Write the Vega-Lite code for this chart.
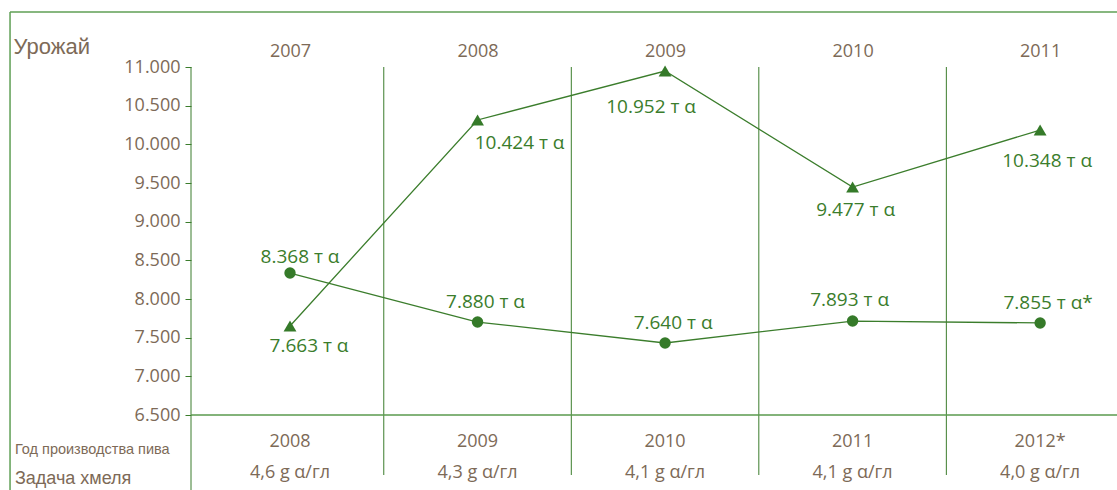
{
  "$schema": "https://vega.github.io/schema/vega-lite/v6.json",
  "width": 926,
  "height": 348,
  "autosize": {"type": "none"},
  "padding": {"left": 191, "top": 67, "right": 0, "bottom": 75},
  "background": "white",
  "config": {
    "view": {"stroke": null},
    "font": "Open Sans",
    "axisX": {"domain": false, "ticks": false, "tickSize": 0, "grid": false, "labelColor": "#7d6a57", "labelFontSize": 18, "labelFont": "Open Sans", "labelPadding": 7},
    "axisY": {"domain": false, "grid": false, "tickColor": "#3b7d2c", "tickSize": 6, "labelColor": "#7d6a57", "labelFontSize": 18, "labelFont": "Open Sans", "labelPadding": 5,
              "titleAngle": 0, "titleAlign": "left", "titleBaseline": "middle", "titleX": -178, "titleY": -21, "titleFont": "Liberation Sans", "titleFontSize": 22, "titleFontWeight": "normal", "titleColor": "#7d6a57"}
  },
  "datasets": {
    "d": [
      {"year": 2007, "series": "A", "value": 7651, "label": "7.663 т α"},
      {"year": 2008, "series": "A", "value": 10315, "label": "10.424 т α"},
      {"year": 2009, "series": "A", "value": 10948, "label": "10.952 т α"},
      {"year": 2010, "series": "A", "value": 9448, "label": "9.477 т α"},
      {"year": 2011, "series": "A", "value": 10185, "label": "10.348 т α"},
      {"year": 2007, "series": "B", "value": 8336, "label": "8.368 т α"},
      {"year": 2008, "series": "B", "value": 7702, "label": "7.880 т α"},
      {"year": 2009, "series": "B", "value": 7431, "label": "7.640 т α"},
      {"year": 2010, "series": "B", "value": 7715, "label": "7.893 т α"},
      {"year": 2011, "series": "B", "value": 7690, "label": "7.855 т α*"}
    ],
    "cols": [
      {"year": 2007, "prod": "2008", "hop": "4,6 g α/гл"},
      {"year": 2008, "prod": "2009", "hop": "4,3 g α/гл"},
      {"year": 2009, "prod": "2010", "hop": "4,1 g α/гл"},
      {"year": 2010, "prod": "2011", "hop": "4,1 g α/гл"},
      {"year": 2011, "prod": "2012*", "hop": "4,0 g α/гл"}
    ],
    "div": [{"b": 2007.5}, {"b": 2008.5}, {"b": 2009.5}, {"b": 2010.5}],
    "one": [{"k": 1}]
  },
  "layer": [
    {
      "data": {"name": "d"},
      "mark": {"type": "line", "color": "#3b7d2c", "strokeWidth": 1.3},
      "encoding": {
        "x": {"field": "year", "type": "quantitative", "scale": {"domain": [2006.472, 2011.41], "nice": false, "zero": false},
              "axis": {"orient": "top", "values": [2007, 2008, 2009, 2010, 2011], "format": "d", "title": null}},
        "y": {"field": "value", "type": "quantitative", "scale": {"domain": [6500, 11000], "nice": false, "zero": false},
              "axis": {"values": [6500, 7000, 7500, 8000, 8500, 9000, 9500, 10000, 10500, 11000], "labelExpr": "replace(format(datum.value, ',.0f'), ',', '.')", "title": "Урожай"}},
        "detail": {"field": "series"}
      }
    },
    {
      "data": {"name": "div"},
      "mark": {"type": "rule", "color": "#3b7d2c", "strokeWidth": 1},
      "encoding": {
        "x": {"field": "b", "type": "quantitative", "scale": {"domain": [2006.472, 2011.41], "nice": false, "zero": false},
              "axis": {"orient": "top", "values": [2007, 2008, 2009, 2010, 2011], "format": "d", "title": null}},
        "y": {"datum": 11000, "type": "quantitative", "scale": {"domain": [6500, 11000], "nice": false, "zero": false},
              "axis": {"values": [6500, 7000, 7500, 8000, 8500, 9000, 9500, 10000, 10500, 11000], "labelExpr": "replace(format(datum.value, ',.0f'), ',', '.')", "title": "Урожай"}},
        "y2": {"datum": 5724}
      }
    },
    {
      "data": {"name": "one"},
      "mark": {"type": "rule", "color": "#3b7d2c", "strokeWidth": 1},
      "encoding": {
        "x": {"datum": 2006.472, "type": "quantitative", "scale": {"domain": [2006.472, 2011.41], "nice": false, "zero": false},
              "axis": {"orient": "top", "values": [2007, 2008, 2009, 2010, 2011], "format": "d", "title": null}},
        "y": {"datum": 11000, "type": "quantitative", "scale": {"domain": [6500, 11000], "nice": false, "zero": false},
              "axis": {"values": [6500, 7000, 7500, 8000, 8500, 9000, 9500, 10000, 10500, 11000], "labelExpr": "replace(format(datum.value, ',.0f'), ',', '.')", "title": "Урожай"}},
        "y2": {"datum": 5530}
      }
    },
    {
      "data": {"name": "one"},
      "mark": {"type": "rule", "color": "#5a9a4e", "strokeWidth": 1.5},
      "encoding": {
        "x": {"datum": 2006.472, "type": "quantitative", "scale": {"domain": [2006.472, 2011.41], "nice": false, "zero": false},
              "axis": {"orient": "top", "values": [2007, 2008, 2009, 2010, 2011], "format": "d", "title": null}},
        "x2": {"datum": 2011.41},
        "y": {"datum": 6500, "type": "quantitative", "scale": {"domain": [6500, 11000], "nice": false, "zero": false},
              "axis": {"values": [6500, 7000, 7500, 8000, 8500, 9000, 9500, 10000, 10500, 11000], "labelExpr": "replace(format(datum.value, ',.0f'), ',', '.')", "title": "Урожай"}}
      }
    },
    {
      "data": {"name": "one"},
      "mark": {"type": "rule", "color": "#5f9f55", "strokeWidth": 1.5},
      "encoding": {
        "x": {"datum": 2005.507, "type": "quantitative", "scale": {"domain": [2006.472, 2011.41], "nice": false, "zero": false},
              "axis": {"orient": "top", "values": [2007, 2008, 2009, 2010, 2011], "format": "d", "title": null}},
        "x2": {"datum": 2011.41},
        "y": {"datum": 11711, "type": "quantitative", "scale": {"domain": [6500, 11000], "nice": false, "zero": false},
              "axis": {"values": [6500, 7000, 7500, 8000, 8500, 9000, 9500, 10000, 10500, 11000], "labelExpr": "replace(format(datum.value, ',.0f'), ',', '.')", "title": "Урожай"}}
      }
    },
    {
      "data": {"name": "one"},
      "mark": {"type": "rule", "color": "#5f9f55", "strokeWidth": 1.5},
      "encoding": {
        "x": {"datum": 2005.507, "type": "quantitative", "scale": {"domain": [2006.472, 2011.41], "nice": false, "zero": false},
              "axis": {"orient": "top", "values": [2007, 2008, 2009, 2010, 2011], "format": "d", "title": null}},
        "y": {"datum": 11711, "type": "quantitative", "scale": {"domain": [6500, 11000], "nice": false, "zero": false},
              "axis": {"values": [6500, 7000, 7500, 8000, 8500, 9000, 9500, 10000, 10500, 11000], "labelExpr": "replace(format(datum.value, ',.0f'), ',', '.')", "title": "Урожай"}},
        "y2": {"datum": 5530}
      }
    },
    {
      "data": {"name": "d"},
      "transform": [{"filter": "datum.series == 'A'"}],
      "mark": {"type": "point", "shape": "triangle-up", "filled": true, "opacity": 1, "color": "#357a29", "size": 165},
      "encoding": {
        "x": {"field": "year", "type": "quantitative", "scale": {"domain": [2006.472, 2011.41], "nice": false, "zero": false},
              "axis": {"orient": "top", "values": [2007, 2008, 2009, 2010, 2011], "format": "d", "title": null}},
        "y": {"field": "value", "type": "quantitative", "scale": {"domain": [6500, 11000], "nice": false, "zero": false},
              "axis": {"values": [6500, 7000, 7500, 8000, 8500, 9000, 9500, 10000, 10500, 11000], "labelExpr": "replace(format(datum.value, ',.0f'), ',', '.')", "title": "Урожай"}}
      }
    },
    {
      "data": {"name": "d"},
      "transform": [{"filter": "datum.series == 'B'"}],
      "mark": {"type": "point", "shape": "circle", "filled": true, "opacity": 1, "color": "#357a29", "size": 130},
      "encoding": {
        "x": {"field": "year", "type": "quantitative", "scale": {"domain": [2006.472, 2011.41], "nice": false, "zero": false},
              "axis": {"orient": "top", "values": [2007, 2008, 2009, 2010, 2011], "format": "d", "title": null}},
        "y": {"field": "value", "type": "quantitative", "scale": {"domain": [6500, 11000], "nice": false, "zero": false},
              "axis": {"values": [6500, 7000, 7500, 8000, 8500, 9000, 9500, 10000, 10500, 11000], "labelExpr": "replace(format(datum.value, ',.0f'), ',', '.')", "title": "Урожай"}}
      }
    },
    {
      "data": {"name": "d"},
      "transform": [{"filter": "datum.series == 'A' && datum.year == 2007"}],
      "mark": {"type": "text", "color": "#3b7d2c", "fontSize": 19, "dx": 19, "dy": 20},
      "encoding": {
        "x": {"field": "year", "type": "quantitative", "scale": {"domain": [2006.472, 2011.41], "nice": false, "zero": false},
              "axis": {"orient": "top", "values": [2007, 2008, 2009, 2010, 2011], "format": "d", "title": null}},
        "y": {"field": "value", "type": "quantitative", "scale": {"domain": [6500, 11000], "nice": false, "zero": false},
              "axis": {"values": [6500, 7000, 7500, 8000, 8500, 9000, 9500, 10000, 10500, 11000], "labelExpr": "replace(format(datum.value, ',.0f'), ',', '.')", "title": "Урожай"}},
        "text": {"field": "label"}
      }
    },
    {
      "data": {"name": "d"},
      "transform": [{"filter": "datum.series == 'A' && datum.year == 2008"}],
      "mark": {"type": "text", "color": "#3b7d2c", "fontSize": 19, "dx": 42, "dy": 23},
      "encoding": {
        "x": {"field": "year", "type": "quantitative", "scale": {"domain": [2006.472, 2011.41], "nice": false, "zero": false},
              "axis": {"orient": "top", "values": [2007, 2008, 2009, 2010, 2011], "format": "d", "title": null}},
        "y": {"field": "value", "type": "quantitative", "scale": {"domain": [6500, 11000], "nice": false, "zero": false},
              "axis": {"values": [6500, 7000, 7500, 8000, 8500, 9000, 9500, 10000, 10500, 11000], "labelExpr": "replace(format(datum.value, ',.0f'), ',', '.')", "title": "Урожай"}},
        "text": {"field": "label"}
      }
    },
    {
      "data": {"name": "d"},
      "transform": [{"filter": "datum.series == 'A' && datum.year == 2009"}],
      "mark": {"type": "text", "color": "#3b7d2c", "fontSize": 19, "dx": -14, "dy": 36},
      "encoding": {
        "x": {"field": "year", "type": "quantitative", "scale": {"domain": [2006.472, 2011.41], "nice": false, "zero": false},
              "axis": {"orient": "top", "values": [2007, 2008, 2009, 2010, 2011], "format": "d", "title": null}},
        "y": {"field": "value", "type": "quantitative", "scale": {"domain": [6500, 11000], "nice": false, "zero": false},
              "axis": {"values": [6500, 7000, 7500, 8000, 8500, 9000, 9500, 10000, 10500, 11000], "labelExpr": "replace(format(datum.value, ',.0f'), ',', '.')", "title": "Урожай"}},
        "text": {"field": "label"}
      }
    },
    {
      "data": {"name": "d"},
      "transform": [{"filter": "datum.series == 'A' && datum.year == 2010"}],
      "mark": {"type": "text", "color": "#3b7d2c", "fontSize": 19, "dx": 3, "dy": 23},
      "encoding": {
        "x": {"field": "year", "type": "quantitative", "scale": {"domain": [2006.472, 2011.41], "nice": false, "zero": false},
              "axis": {"orient": "top", "values": [2007, 2008, 2009, 2010, 2011], "format": "d", "title": null}},
        "y": {"field": "value", "type": "quantitative", "scale": {"domain": [6500, 11000], "nice": false, "zero": false},
              "axis": {"values": [6500, 7000, 7500, 8000, 8500, 9000, 9500, 10000, 10500, 11000], "labelExpr": "replace(format(datum.value, ',.0f'), ',', '.')", "title": "Урожай"}},
        "text": {"field": "label"}
      }
    },
    {
      "data": {"name": "d"},
      "transform": [{"filter": "datum.series == 'A' && datum.year == 2011"}],
      "mark": {"type": "text", "color": "#3b7d2c", "fontSize": 19, "dx": 7, "dy": 31},
      "encoding": {
        "x": {"field": "year", "type": "quantitative", "scale": {"domain": [2006.472, 2011.41], "nice": false, "zero": false},
              "axis": {"orient": "top", "values": [2007, 2008, 2009, 2010, 2011], "format": "d", "title": null}},
        "y": {"field": "value", "type": "quantitative", "scale": {"domain": [6500, 11000], "nice": false, "zero": false},
              "axis": {"values": [6500, 7000, 7500, 8000, 8500, 9000, 9500, 10000, 10500, 11000], "labelExpr": "replace(format(datum.value, ',.0f'), ',', '.')", "title": "Урожай"}},
        "text": {"field": "label"}
      }
    },
    {
      "data": {"name": "d"},
      "transform": [{"filter": "datum.series == 'B' && datum.year == 2007"}],
      "mark": {"type": "text", "color": "#3b7d2c", "fontSize": 19, "dx": 10, "dy": -16},
      "encoding": {
        "x": {"field": "year", "type": "quantitative", "scale": {"domain": [2006.472, 2011.41], "nice": false, "zero": false},
              "axis": {"orient": "top", "values": [2007, 2008, 2009, 2010, 2011], "format": "d", "title": null}},
        "y": {"field": "value", "type": "quantitative", "scale": {"domain": [6500, 11000], "nice": false, "zero": false},
              "axis": {"values": [6500, 7000, 7500, 8000, 8500, 9000, 9500, 10000, 10500, 11000], "labelExpr": "replace(format(datum.value, ',.0f'), ',', '.')", "title": "Урожай"}},
        "text": {"field": "label"}
      }
    },
    {
      "data": {"name": "d"},
      "transform": [{"filter": "datum.series == 'B' && datum.year != 2007 && datum.year != 2010"}],
      "mark": {"type": "text", "color": "#3b7d2c", "fontSize": 19, "dx": 8, "dy": -20},
      "encoding": {
        "x": {"field": "year", "type": "quantitative", "scale": {"domain": [2006.472, 2011.41], "nice": false, "zero": false},
              "axis": {"orient": "top", "values": [2007, 2008, 2009, 2010, 2011], "format": "d", "title": null}},
        "y": {"field": "value", "type": "quantitative", "scale": {"domain": [6500, 11000], "nice": false, "zero": false},
              "axis": {"values": [6500, 7000, 7500, 8000, 8500, 9000, 9500, 10000, 10500, 11000], "labelExpr": "replace(format(datum.value, ',.0f'), ',', '.')", "title": "Урожай"}},
        "text": {"field": "label"}
      }
    },
    {
      "data": {"name": "d"},
      "transform": [{"filter": "datum.series == 'B' && datum.year == 2010"}],
      "mark": {"type": "text", "color": "#3b7d2c", "fontSize": 19, "dx": -3, "dy": -21},
      "encoding": {
        "x": {"field": "year", "type": "quantitative", "scale": {"domain": [2006.472, 2011.41], "nice": false, "zero": false},
              "axis": {"orient": "top", "values": [2007, 2008, 2009, 2010, 2011], "format": "d", "title": null}},
        "y": {"field": "value", "type": "quantitative", "scale": {"domain": [6500, 11000], "nice": false, "zero": false},
              "axis": {"values": [6500, 7000, 7500, 8000, 8500, 9000, 9500, 10000, 10500, 11000], "labelExpr": "replace(format(datum.value, ',.0f'), ',', '.')", "title": "Урожай"}},
        "text": {"field": "label"}
      }
    },
    {
      "data": {"name": "cols"},
      "mark": {"type": "text", "color": "#7d6a57", "fontSize": 18, "baseline": "middle"},
      "encoding": {
        "x": {"field": "year", "type": "quantitative", "scale": {"domain": [2006.472, 2011.41], "nice": false, "zero": false},
              "axis": {"orient": "top", "values": [2007, 2008, 2009, 2010, 2011], "format": "d", "title": null}},
        "y": {"datum": 6151, "type": "quantitative", "scale": {"domain": [6500, 11000], "nice": false, "zero": false},
              "axis": {"values": [6500, 7000, 7500, 8000, 8500, 9000, 9500, 10000, 10500, 11000], "labelExpr": "replace(format(datum.value, ',.0f'), ',', '.')", "title": "Урожай"}},
        "text": {"field": "prod"}
      }
    },
    {
      "data": {"name": "cols"},
      "mark": {"type": "text", "color": "#7d6a57", "fontSize": 18, "baseline": "middle"},
      "encoding": {
        "x": {"field": "year", "type": "quantitative", "scale": {"domain": [2006.472, 2011.41], "nice": false, "zero": false},
              "axis": {"orient": "top", "values": [2007, 2008, 2009, 2010, 2011], "format": "d", "title": null}},
        "y": {"datum": 5750, "type": "quantitative", "scale": {"domain": [6500, 11000], "nice": false, "zero": false},
              "axis": {"values": [6500, 7000, 7500, 8000, 8500, 9000, 9500, 10000, 10500, 11000], "labelExpr": "replace(format(datum.value, ',.0f'), ',', '.')", "title": "Урожай"}},
        "text": {"field": "hop"}
      }
    },
    {
      "data": {"values": [{"t": "Год производства пива"}]},
      "mark": {"type": "text", "color": "#7d6a57", "fontSize": 14.5, "font": "Liberation Sans", "align": "left", "baseline": "middle"},
      "encoding": {
        "x": {"datum": 2005.533, "type": "quantitative", "scale": {"domain": [2006.472, 2011.41], "nice": false, "zero": false},
              "axis": {"orient": "top", "values": [2007, 2008, 2009, 2010, 2011], "format": "d", "title": null}},
        "y": {"datum": 6047, "type": "quantitative", "scale": {"domain": [6500, 11000], "nice": false, "zero": false},
              "axis": {"values": [6500, 7000, 7500, 8000, 8500, 9000, 9500, 10000, 10500, 11000], "labelExpr": "replace(format(datum.value, ',.0f'), ',', '.')", "title": "Урожай"}},
        "text": {"field": "t"}
      }
    },
    {
      "data": {"values": [{"t": "Задача хмеля"}]},
      "mark": {"type": "text", "color": "#7d6a57", "fontSize": 18, "font": "Liberation Sans", "align": "left", "baseline": "middle"},
      "encoding": {
        "x": {"datum": 2005.533, "type": "quantitative", "scale": {"domain": [2006.472, 2011.41], "nice": false, "zero": false},
              "axis": {"orient": "top", "values": [2007, 2008, 2009, 2010, 2011], "format": "d", "title": null}},
        "y": {"datum": 5672, "type": "quantitative", "scale": {"domain": [6500, 11000], "nice": false, "zero": false},
              "axis": {"values": [6500, 7000, 7500, 8000, 8500, 9000, 9500, 10000, 10500, 11000], "labelExpr": "replace(format(datum.value, ',.0f'), ',', '.')", "title": "Урожай"}},
        "text": {"field": "t"}
      }
    }
  ]
}
